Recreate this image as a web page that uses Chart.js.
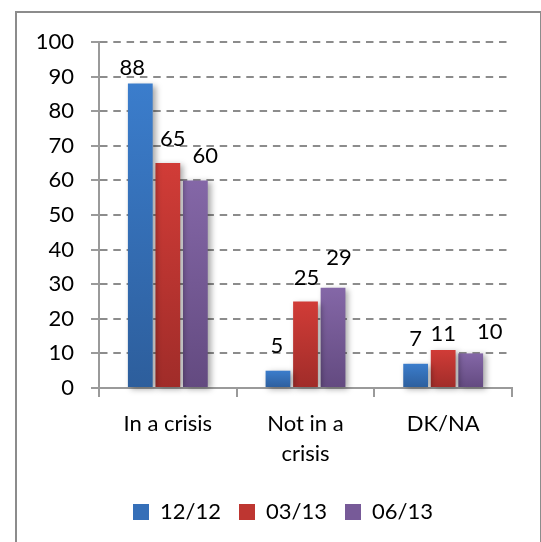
<!DOCTYPE html>
<html>
<head>
<meta charset="utf-8">
<title>Crisis perception</title>
<script src="https://cdn.jsdelivr.net/npm/chart.js@4"></script>
<style>
  html, body { margin: 0; padding: 0; background: #fff; }
  #wrap { position: relative; width: 541px; height: 542px; overflow: hidden; }
  #wrap canvas { position: absolute; left: 0; top: 0; }
  #frame {
    position: absolute; left: 15px; top: 11px; width: 523px; height: 600px;
    border: 2px solid #8c8c8c; pointer-events: none;
  }
</style>
</head>
<body>
<div id="wrap">
  <canvas id="chart-crisis" width="541" height="542"></canvas>
  <div id="frame"></div>
</div>
<script>
const categories = ["In a crisis", ["Not in a", "crisis"], "DK/NA"];
const waves = ["12/12", "03/13", "06/13"];
const dec12 = [88, 5, 7];
const mar13 = [65, 25, 11];
const jun13 = [60, 29, 10];

const FONT = { family: "Lato, 'Open Sans', sans-serif", size: 22 };

// vertical gradient per bar, light at the top, dark at the base
function barFill(top, bottom) {
  return (c) => {
    const chart = c.chart;
    if (!chart.chartArea || c.type !== "data") return bottom;
    const y = chart.scales.y;
    const g = chart.ctx.createLinearGradient(0, y.getPixelForValue(c.raw), 0, y.getPixelForValue(0));
    g.addColorStop(0, top);
    g.addColorStop(1, bottom);
    return g;
  };
}

const palette = [
  { top: "#3b7dcc", bottom: "#2d5e9c", flat: "#356fb8" },
  { top: "#d13c37", bottom: "#a02c29", flat: "#be3631" },
  { top: "#8467a7", bottom: "#634a80", flat: "#775a98" },
];

// soft drop shadow behind the bars
const barShadow = {
  id: "barShadow",
  beforeDatasetsDraw(chart) {
    const c = chart.ctx;
    c.save();
    c.shadowColor = "rgba(0,0,0,0.35)";
    c.shadowBlur = 6;
    c.shadowOffsetX = 3;
    c.shadowOffsetY = 2;
  },
  afterDatasetsDraw(chart) {
    chart.ctx.restore();
  },
};

// value labels above each bar; nudge = [dx, gap above bar top]
const valueLabels = {
  id: "valueLabels",
  afterDatasetsDraw(chart, args, opts) {
    const c = chart.ctx;
    c.save();
    c.font = `${FONT.size}px ${FONT.family}`;
    c.fillStyle = "#000";
    c.textAlign = "center";
    c.textBaseline = "alphabetic";
    chart.data.datasets.forEach((ds, di) => {
      chart.getDatasetMeta(di).data.forEach((bar, i) => {
        const [dx, gap] = opts.nudge[di][i];
        c.fillText(String(ds.data[i]), bar.x + dx, bar.y - gap);
      });
    });
    c.restore();
  },
};

// centre the legend under the framed area rather than the canvas
const legendShift = {
  id: "legendShift",
  afterLayout(chart, args, opts) {
    chart.legend.left += opts.dx;
    chart.legend.right += opts.dx;
  },
};

const series = [dec12, mar13, jun13];

new Chart(document.getElementById("chart-crisis"), {
  type: "bar",
  data: {
    labels: categories,
    datasets: series.map((data, i) => ({
      label: waves[i],
      data,
      backgroundColor: barFill(palette[i].top, palette[i].bottom),
      borderWidth: 0,
      categoryPercentage: 0.6,
      barPercentage: 0.9,
      clip: false,
    })),
  },
  options: {
    responsive: false,
    animation: false,
    layout: { padding: { top: 42, right: 29, bottom: 9, left: 0 } },
    scales: {
      x: {
        ticks: { color: "#000", font: { ...FONT, lineHeight: 1.35 }, padding: 12, maxRotation: 0, autoSkip: false },
        grid: { drawOnChartArea: false, offset: true, tickLength: 9, color: "#9a9a9a", lineWidth: 2 },
        border: { color: "#9a9a9a", width: 2 },
        afterFit(scale) { scale.height = 95; },
      },
      y: {
        min: 0,
        max: 100,
        ticks: { stepSize: 10, color: "#000", font: FONT, padding: 17 },
        grid: { color: "#8c8c8c", lineWidth: 2, tickLength: 8, tickColor: "#9a9a9a" },
        border: { color: "#9a9a9a", width: 2, dash: [7.5, 5.8] },
        afterFit(scale) { scale.width = 99; },
      },
    },
    plugins: {
      tooltip: { enabled: false },
      legend: {
        position: "bottom",
        labels: {
          color: "#000",
          font: FONT,
          boxWidth: 16,
          boxHeight: 16,
          padding: 18,
          generateLabels(chart) {
            return Chart.defaults.plugins.legend.labels.generateLabels(chart).map((item, i) => ({
              ...item,
              fillStyle: palette[i].flat,
              lineWidth: 0,
            }));
          },
        },
      },
      valueLabels: {
        nudge: [
          [[-8, 8.5], [-1, 17.7], [0, 18]],
          [[5, 17.5], [1, 17], [0, 8.7]],
          [[10, 17.7], [6, 23], [19, 14]],
        ],
      },
      legendShift: { dx: 27 },
    },
  },
  plugins: [barShadow, valueLabels, legendShift],
});
</script>
</body>
</html>
